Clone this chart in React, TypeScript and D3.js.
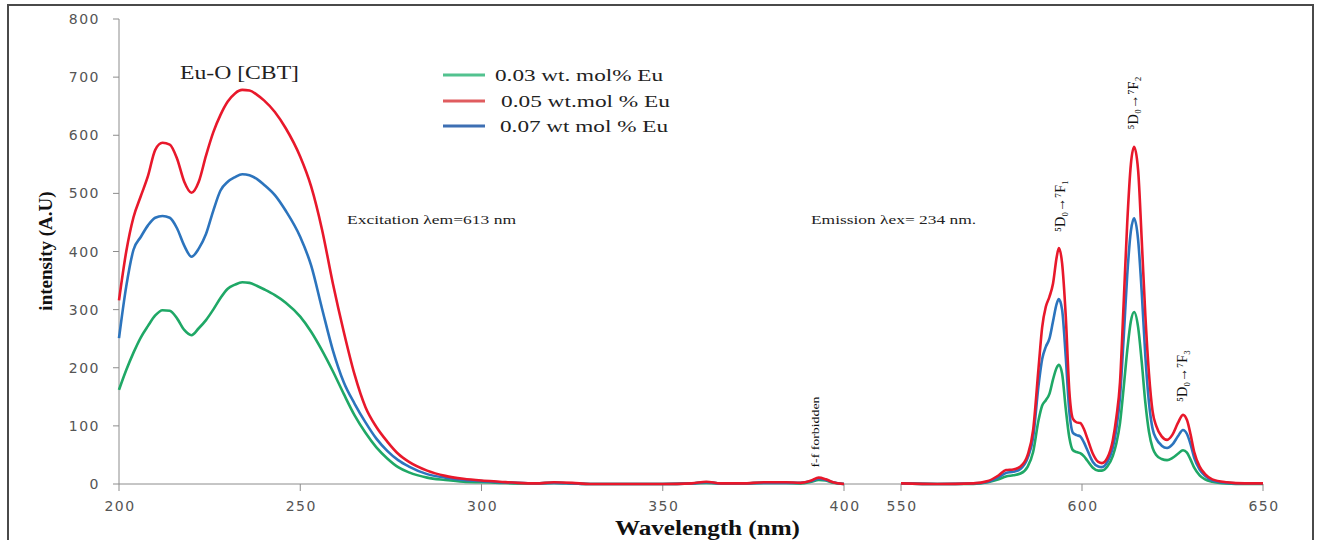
import React, { useRef, useEffect } from 'react';
import * as d3 from 'd3';

// excitation part (left axis segment, 200-400 nm)
const exWavelengths = [200,202,204,206,208,210,212,214,216,218,220,222,224,226,228,230,232,234,236,238,240,
  243,246,250,253,256,259,262,265,268,271,274,277,280,
  285,290,295,300,305,310,315,320,325,330,
  340,350,358,362,366,372,378,384,388,391,393,395,397,400];
const exRed = [316,400,459,495,530,575,587,584,560,520,501,520,565,605,635,658,672,678,677,670,660,
  640,612,563,512,438,345,262,188,132,98,73,52,38,
  23,14,9,6,4,2,1,3,2,0,
  0,0,1,4,1,1,3,3,2,6,11,8,3,0];
const exBlue = [251,340,403,425,445,458,461,458,440,410,391,405,430,470,505,520,528,533,531,525,515,
  497,470,425,376,302,230,175,138,106,78,57,41,30,
  17,11,7,5,3,2,1,2,1,0,
  0,0,1,3,1,1,2,2,2,5,9,7,3,0];
const exGreen = [162,196,226,252,272,290,299,298,285,265,256,268,282,300,320,336,343,347,346,341,335,
  325,312,288,262,230,194,155,118,88,63,44,29,20,
  11,7,4,3,2,1,1,2,1,0,
  0,0,1,2,1,1,2,2,1,4,7,6,2,0];

// emission part (right axis segment, 550-650 nm)
const emWavelengths = [550,560,570,574,577,579,581,583,585,586.5,588,589,590,591,592,593,593.6,594.5,595.5,596.5,597.5,598.5,599.5,600.5,601.5,
  603,604.5,605.5,607,608.5,609.5,610.5,611.5,612.5,613.5,614.4,615.5,616.5,617.5,618.5,619.5,620.5,
  622,623.5,625,626.5,627.9,629,630,631,632.5,634,636,640,645,650];
const emRed = [1,0,1,5,15,24,25,30,50,93,200,270,305,322,345,390,406,380,290,160,112,106,105,95,78,
  52,38,36,45,75,115,175,310,450,550,580,540,420,290,190,125,100,
  82,76,85,105,119,110,85,55,30,17,8,3,1,1];
const emBlue = [1,0,1,4,12,19,21,26,45,80,170,215,236,250,280,310,318,300,220,125,88,84,82,72,58,
  38,30,29,38,62,95,150,250,360,435,457,420,330,220,140,95,78,
  66,62,68,82,93,86,68,45,25,14,6,2,1,1];
const emGreen = [1,0,0,3,8,13,15,18,30,55,110,135,144,155,180,200,205,190,130,80,58,55,53,48,40,
  28,23,23,30,48,70,105,165,230,280,296,270,210,140,90,62,50,
  43,41,45,52,58,54,42,28,15,8,4,1,0,0];

const seriesNames = ['0.03 wt. mol% Eu', '0.05 wt.mol % Eu', '0.07 wt mol % Eu'];
const yTicks = [0,100,200,300,400,500,600,700,800];
const leftTicks = [200,250,300,350,400];
const rightTicks = [550,600,650];

function App() {
  const svgRef = useRef(null);

  useEffect(() => {
    const svg = d3.select(svgRef.current);
    svg.selectAll('*').remove();

    const xLeft = d3.scaleLinear().domain([200, 400]).range([119, 844]);
    const xRight = d3.scaleLinear().domain([550, 650]).range([901, 1263]);
    const y = d3.scaleLinear().domain([0, 800]).range([484, 19]);

    const colors = { green: '#1fa866', red: '#e8182b', blue: '#2c74bd' };
    const legendColors = ['#52c28f', '#e05c5f', '#3d6fb3'];

    // outer frame
    svg.append('rect')
      .attr('x', 8).attr('y', 5).attr('width', 1305).attr('height', 600)
      .attr('fill', 'none').attr('stroke', '#4a4a4a').attr('stroke-width', 2);

    const axisColor = '#8c8c8c';
    const tickFont = "'DejaVu Sans', Verdana, sans-serif";

    // y axis
    svg.append('line').attr('x1', 119).attr('x2', 119).attr('y1', y(800)).attr('y2', y(0))
      .attr('stroke', axisColor).attr('stroke-width', 1);
    yTicks.forEach(t => {
      svg.append('line').attr('x1', 113).attr('x2', 119).attr('y1', y(t)).attr('y2', y(t))
        .attr('stroke', axisColor);
      svg.append('text').attr('x', 100).attr('y', y(t) + 5)
        .attr('text-anchor', 'end')
        .style('font-family', tickFont).style('font-size', '14px').style('letter-spacing', '1.5px')
        .attr('fill', '#555').text(t);
    });

    // x axis (one line, broken scale)
    svg.append('line').attr('x1', 119).attr('x2', xRight(650)).attr('y1', y(0)).attr('y2', y(0))
      .attr('stroke', axisColor);
    const xTick = (px, label) => {
      svg.append('line').attr('x1', px).attr('x2', px).attr('y1', y(0)).attr('y2', y(0) + 7)
        .attr('stroke', axisColor);
      svg.append('text').attr('x', px + 1).attr('y', 511)
        .attr('text-anchor', 'middle')
        .style('font-family', tickFont).style('font-size', '14px').style('letter-spacing', '1.5px')
        .attr('fill', '#555').text(label);
    };
    leftTicks.forEach(t => xTick(xLeft(t), t));
    rightTicks.forEach(t => xTick(xRight(t), t));

    // curves
    const exLine = d3.line()
      .x(d => xLeft(d[0]))
      .y(d => y(d[1]))
      .curve(d3.curveMonotoneX);
    const emLine = d3.line()
      .x(d => xRight(d[0]))
      .y(d => y(d[1]))
      .curve(d3.curveMonotoneX);

    const ex = [
      { vals: exGreen, c: colors.green },
      { vals: exBlue, c: colors.blue },
      { vals: exRed, c: colors.red },
    ];
    ex.forEach(s => {
      svg.append('path')
        .datum(exWavelengths.map((w, i) => [w, s.vals[i]]))
        .attr('d', exLine)
        .attr('fill', 'none').attr('stroke', s.c).attr('stroke-width', 2.6);
    });

    const em = [
      { vals: emGreen, c: colors.green },
      { vals: emBlue, c: colors.blue },
      { vals: emRed, c: colors.red },
    ];
    em.forEach(s => {
      svg.append('path')
        .datum(emWavelengths.map((w, i) => [w, s.vals[i]]))
        .attr('d', emLine)
        .attr('fill', 'none').attr('stroke', s.c).attr('stroke-width', 2.6);
    });

    const serif = "'Liberation Serif', 'Times New Roman', serif";

    // axis titles
    svg.append('text')
      .attr('transform', 'translate(52, 251) rotate(-90)')
      .attr('text-anchor', 'middle')
      .style('font-family', serif).style('font-weight', 'bold').style('font-size', '19px')
      .attr('fill', '#111').text('intensity (A.U)');

    svg.append('text')
      .attr('x', 615).attr('y', 535)
      .attr('textLength', 185).attr('lengthAdjust', 'spacingAndGlyphs')
      .style('font-family', serif).style('font-weight', 'bold').style('font-size', '22px')
      .attr('fill', '#111').text('Wavelength (nm)');

    // legend
    const legY = [75, 101, 126];
    const legX = [495, 501, 500];
    const legW = [168, 169, 168];
    seriesNames.forEach((name, i) => {
      svg.append('line').attr('x1', 443).attr('x2', 485).attr('y1', legY[i]).attr('y2', legY[i])
        .attr('stroke', legendColors[i]).attr('stroke-width', 3);
      svg.append('text').attr('x', legX[i]).attr('y', legY[i] + 6)
        .attr('textLength', legW[i]).attr('lengthAdjust', 'spacingAndGlyphs')
        .style('font-family', serif).style('font-size', '17px')
        .attr('fill', '#222').text(name);
    });

    // annotations
    svg.append('text').attr('x', 180).attr('y', 79)
      .attr('textLength', 119).attr('lengthAdjust', 'spacingAndGlyphs')
      .style('font-family', serif).style('font-size', '18px')
      .attr('fill', '#222').text('Eu-O [CBT]');

    svg.append('text').attr('x', 347).attr('y', 224)
      .attr('textLength', 169).attr('lengthAdjust', 'spacingAndGlyphs')
      .style('font-family', serif).style('font-size', '12px')
      .attr('fill', '#222').text('Excitation λem=613 nm');

    svg.append('text').attr('x', 811).attr('y', 224)
      .attr('textLength', 165).attr('lengthAdjust', 'spacingAndGlyphs')
      .style('font-family', serif).style('font-size', '12px')
      .attr('fill', '#222').text('Emission λex= 234 nm.');

    const rotLabel = (cx, cy, len, sub) => {
      svg.append('text')
        .attr('transform', `translate(${cx + 5}, ${cy}) rotate(-90)`)
        .attr('text-anchor', 'middle')
        .attr('textLength', len).attr('lengthAdjust', 'spacingAndGlyphs')
        .style('font-family', serif).style('font-size', '15px')
        .attr('fill', '#111').text(`⁵D₀→⁷F${sub}`);
    };
    rotLabel(1060, 206, 52, '₁');
    rotLabel(1133, 103, 53, '₂');
    rotLabel(1182, 376, 52, '₃');

    svg.append('text')
      .attr('transform', 'translate(819, 432) rotate(-90)')
      .attr('text-anchor', 'middle')
      .attr('textLength', 71).attr('lengthAdjust', 'spacingAndGlyphs')
      .style('font-family', serif).style('font-size', '11px')
      .attr('fill', '#111').text('f-f forbidden');
  }, []);

  return (
    <svg ref={svgRef} width={1317} height={540}
      style={{ position: 'absolute', left: 0, top: 0, background: '#fff' }} />
  );
}

export default App;
